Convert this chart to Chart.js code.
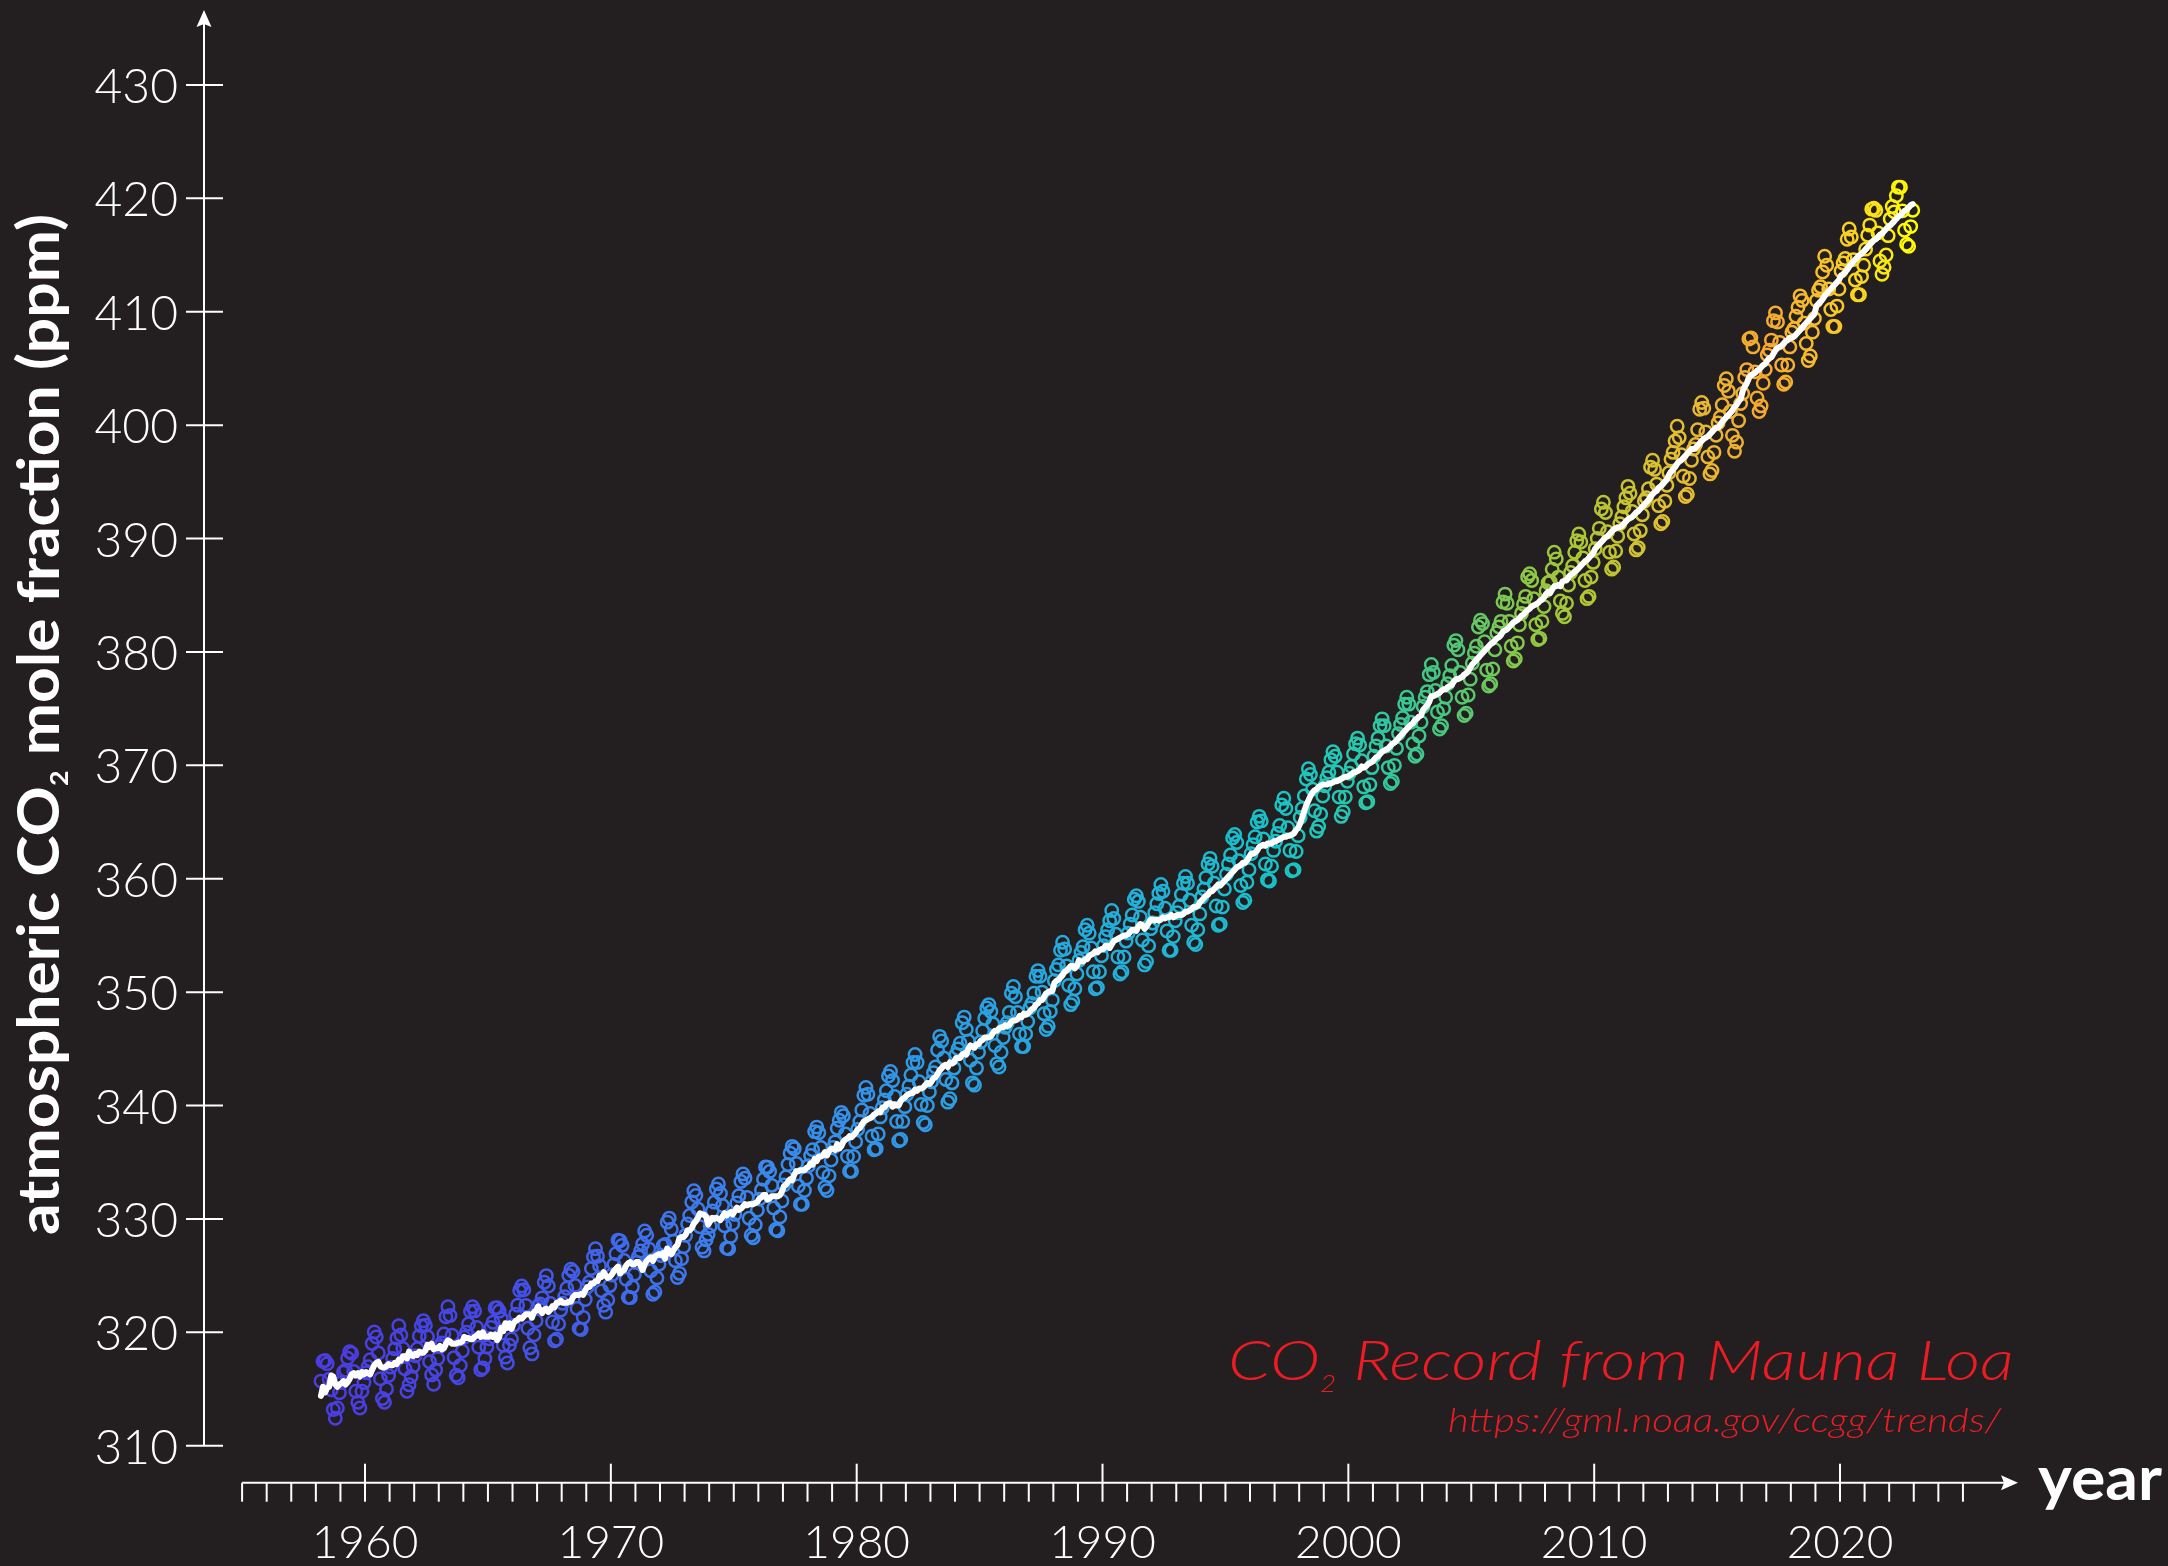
<!DOCTYPE html>
<html>
<head>
<meta charset="utf-8">
<title>CO2 Record from Mauna Loa</title>
<script src="https://cdn.jsdelivr.net/npm/chart.js@4.4.1/dist/chart.umd.min.js"></script>
<style>
  html, body { margin: 0; padding: 0; background: #231f20; }
  #wrap { position: relative; width: 2168px; height: 1566px; }
</style>
</head>
<body>
<div id="wrap"><canvas id="co2"></canvas></div>
<script>
// Mauna Loa monthly mean CO2 (ppm), one row per year, first value = March 1958
var START_YEAR = 1958, START_MONTH = 3;

var co2Monthly = [
  315.70, 317.45, 317.51, 317.24, 315.86, 314.93, 313.20, 312.43, 313.33, 314.67,
  315.58, 316.49, 316.65, 317.72, 318.29, 318.15, 316.54, 314.80, 313.84, 313.33, 314.81, 315.58,
  316.43, 316.97, 317.58, 319.02, 320.03, 319.59, 318.18, 315.91, 314.16, 313.83, 315.00, 316.19,
  316.93, 317.70, 318.54, 319.48, 320.58, 319.77, 318.57, 316.79, 314.80, 315.38, 316.10, 317.01,
  317.94, 318.55, 319.68, 320.57, 321.02, 320.62, 319.61, 317.40, 316.25, 315.42, 316.69, 317.70,
  318.74, 319.07, 319.86, 321.38, 322.25, 321.48, 319.74, 317.77, 316.21, 315.99, 317.07, 318.35,
  319.57, 320.01, 320.74, 321.84, 322.26, 321.89, 320.44, 318.69, 316.70, 316.87, 317.68, 318.71,
  319.44, 320.44, 320.89, 322.14, 322.17, 321.87, 321.21, 318.87, 317.81, 317.30, 318.87, 319.42,
  320.62, 321.60, 322.39, 323.70, 324.08, 323.75, 322.38, 320.36, 318.64, 318.10, 319.78, 321.03,
  322.33, 322.50, 323.04, 324.42, 325.00, 324.09, 322.54, 320.92, 319.25, 319.39, 320.73, 321.96,
  322.57, 323.15, 323.89, 325.02, 325.57, 325.36, 324.14, 322.11, 320.33, 320.25, 321.32, 322.89,
  324.00, 324.42, 325.63, 326.66, 327.38, 326.71, 325.88, 323.66, 322.38, 321.78, 322.85, 324.12,
  325.06, 325.98, 326.93, 328.13, 328.08, 327.67, 326.34, 324.69, 323.10, 323.06, 324.01, 325.13,
  326.17, 326.68, 327.17, 327.79, 328.93, 328.57, 327.36, 325.43, 323.36, 323.56, 324.80, 326.01,
  326.77, 327.63, 327.75, 329.72, 330.07, 329.09, 328.04, 326.32, 324.84, 325.20, 326.50, 327.55,
  328.55, 329.56, 330.30, 331.50, 332.48, 332.07, 330.87, 329.31, 327.51, 327.18, 328.16, 328.64,
  329.35, 330.71, 331.48, 332.65, 333.09, 332.25, 331.18, 329.40, 327.43, 327.37, 328.46, 329.57,
  330.40, 331.40, 332.04, 333.31, 333.97, 333.60, 331.90, 330.06, 328.56, 328.34, 329.49, 330.76,
  331.75, 332.56, 333.50, 334.58, 334.57, 334.19, 332.96, 330.97, 329.07, 328.96, 330.18, 331.58,
  333.0, 333.7, 334.8, 335.8, 336.4, 336.2, 334.9, 332.9, 331.3, 331.3, 332.5, 333.6,
  334.7, 335.6, 336.1, 337.7, 338.1, 337.6, 336.3, 334.1, 332.8, 332.5, 333.8, 335.2,
  336.3, 336.8, 338.0, 338.7, 339.4, 339.1, 337.5, 335.5, 334.2, 334.2, 335.5, 336.8,
  337.9, 338.6, 339.6, 340.9, 341.6, 341.0, 339.3, 337.3, 336.1, 336.2, 337.5, 339.0,
  339.8, 340.5, 341.3, 342.6, 343.0, 342.2, 340.8, 338.6, 336.9, 337.0, 338.6, 339.9,
  341.0, 341.7, 342.7, 343.8, 344.5, 343.8, 342.1, 340.1, 338.5, 338.3, 340.0, 341.2,
  342.1, 342.9, 343.4, 344.9, 346.1, 345.7, 344.2, 342.3, 340.3, 340.6, 342.0, 343.3,
  344.5, 345.0, 345.5, 347.3, 347.8, 346.7, 345.7, 344.0, 342.0, 341.8, 343.3, 344.7,
  345.6, 346.6, 347.7, 348.6, 348.9, 348.3, 347.2, 345.3, 343.7, 343.4, 344.7, 346.0,
  346.9, 347.3, 348.2, 349.9, 350.5, 349.6, 348.2, 346.3, 345.2, 345.2, 346.3, 347.4,
  348.6, 349.0, 349.9, 351.4, 351.9, 351.4, 350.0, 348.1, 346.7, 347.0, 348.3, 349.3,
  351.0, 352.0, 352.4, 353.7, 354.4, 353.8, 352.3, 350.6, 348.9, 349.2, 350.3, 351.6,
  352.8, 353.5, 354.0, 355.5, 355.9, 355.2, 353.9, 351.8, 350.3, 350.4, 351.8, 353.2,
  354.1, 354.9, 355.5, 356.3, 357.2, 356.5, 355.1, 353.1, 351.6, 351.8, 353.1, 354.5,
  355.2, 356.0, 356.8, 358.2, 358.5, 358.0, 356.6, 354.6, 352.4, 352.7, 354.1, 355.6,
  356.1, 357.0, 357.8, 358.7, 359.5, 358.9, 357.4, 355.4, 353.7, 353.7, 354.9, 356.3,
  357.0, 357.6, 358.6, 359.6, 360.2, 359.6, 358.1, 355.9, 354.4, 354.2, 355.5, 356.9,
  358.4, 359.1, 360.1, 361.3, 361.8, 361.1, 359.6, 357.6, 355.9, 356.0, 357.5, 359.1,
  360.4, 361.3, 362.1, 363.6, 363.9, 363.2, 361.6, 359.4, 357.9, 358.1, 359.7, 360.8,
  362.2, 363.0, 363.7, 365.0, 365.5, 365.1, 363.5, 361.3, 359.9, 359.8, 361.1, 362.5,
  363.3, 364.0, 364.7, 366.5, 367.1, 366.2, 364.5, 362.5, 360.7, 360.8, 362.4, 363.8,
  365.4, 366.2, 367.3, 368.8, 369.7, 369.2, 367.9, 366.0, 364.2, 364.6, 365.7, 367.3,
  368.2, 368.9, 369.4, 370.5, 371.2, 370.8, 369.4, 367.2, 365.5, 365.9, 367.2, 368.6,
  369.3, 369.9, 371.0, 371.9, 372.4, 371.8, 370.4, 368.1, 366.7, 366.8, 368.3, 369.8,
  370.8, 371.7, 372.4, 373.5, 374.1, 373.5, 371.7, 369.8, 368.4, 368.6, 370.0, 371.5,
  372.8, 373.6, 374.2, 375.4, 376.0, 375.4, 373.8, 371.9, 370.8, 371.0, 372.6, 373.8,
  375.2, 376.0, 376.5, 378.0, 378.9, 378.2, 376.6, 374.7, 373.2, 373.5, 375.0, 376.0,
  377.2, 377.9, 378.8, 380.6, 381.0, 380.2, 378.2, 376.0, 374.4, 374.6, 376.2, 377.6,
  379.0, 379.9, 380.5, 382.2, 382.8, 382.5, 380.9, 378.4, 377.0, 377.2, 378.5, 380.2,
  381.7, 382.2, 382.7, 384.4, 385.1, 384.3, 382.7, 380.5, 379.2, 379.4, 380.8, 382.4,
  383.4, 384.2, 384.9, 386.6, 386.9, 386.3, 384.7, 382.4, 381.1, 381.2, 382.7, 384.0,
  385.4, 386.1, 386.2, 387.3, 388.8, 388.2, 386.6, 384.5, 383.4, 383.1, 384.3, 385.9,
  387.0, 387.6, 388.8, 389.8, 390.4, 389.7, 388.3, 386.3, 384.7, 384.9, 386.6, 387.9,
  389.1, 390.0, 390.9, 392.6, 393.2, 392.3, 390.6, 388.8, 387.3, 387.5, 388.9, 390.2,
  391.3, 391.9, 392.8, 393.6, 394.6, 394.0, 392.4, 390.4, 389.0, 389.2, 390.7, 392.1,
  393.3, 393.6, 394.4, 396.3, 396.9, 396.1, 394.8, 392.9, 391.3, 391.5, 393.3, 394.7,
  395.8, 397.0, 397.6, 398.6, 399.9, 398.9, 397.4, 395.5, 393.7, 393.9, 395.3, 396.9,
  397.9, 398.3, 399.6, 401.4, 402.0, 401.5, 399.4, 397.2, 395.7, 396.0, 397.6, 399.1,
  400.2, 400.7, 401.8, 403.5, 404.1, 403.0, 401.2, 399.1, 397.7, 398.5, 400.4, 401.9,
  402.8, 404.2, 404.9, 407.6, 407.7, 406.9, 404.7, 402.4, 401.2, 401.7, 403.7, 404.9,
  406.2, 406.6, 407.5, 409.2, 409.9, 409.1, 407.3, 405.3, 403.6, 403.8, 405.3, 406.9,
  408.2, 408.5, 409.6, 410.4, 411.4, 411.0, 409.0, 407.2, 405.7, 406.1, 408.2, 409.4,
  411.0, 411.9, 412.2, 413.5, 414.9, 414.1, 412.0, 410.2, 408.7, 408.7, 410.5, 412.0,
  413.6, 414.3, 414.7, 416.4, 417.3, 416.6, 414.6, 412.8, 411.5, 411.5, 413.1, 414.1,
  415.52, 416.75, 417.64, 419.05, 419.13, 418.94, 416.96, 414.47, 413.30, 413.93, 415.01, 416.71,
  418.19, 419.28, 418.81, 420.23, 420.99, 420.99, 418.90, 417.19, 415.95, 415.78, 417.51, 418.95
];

// seasonally adjusted trend (white line), same months as above
var co2Trend = [
  314.4, 315.2, 314.7, 315.1, 315.2, 316.2, 316.1, 315.4, 315.2, 315.4,
  315.5, 315.7, 315.4, 315.6, 315.9, 316.3, 316.4, 316.2, 316.4, 316.1, 316.5, 316.3,
  316.5, 316.4, 316.3, 316.7, 317.1, 317.3, 317.4, 317.0, 316.9, 316.9, 317.0, 317.2,
  317.1, 317.1, 317.3, 317.2, 317.6, 317.5, 317.9, 317.9, 317.7, 318.3, 318.0, 317.9,
  318.1, 318.0, 318.3, 318.2, 318.2, 318.4, 318.9, 318.7, 319.0, 318.5, 318.6, 318.6,
  318.8, 318.5, 318.6, 319.0, 319.3, 319.2, 319.0, 319.0, 319.0, 319.1, 319.1, 319.2,
  319.6, 319.5, 319.5, 319.4, 319.4, 319.6, 319.7, 319.9, 319.6, 320.0, 319.6, 319.6,
  319.6, 319.8, 319.6, 319.8, 319.3, 319.6, 320.4, 320.1, 320.8, 320.4, 320.8, 320.3,
  320.8, 321.0, 321.1, 321.3, 321.2, 321.4, 321.6, 321.6, 321.6, 321.3, 321.8, 321.9,
  322.3, 321.9, 321.7, 322.0, 322.1, 321.8, 322.0, 322.3, 322.2, 322.6, 322.6, 322.8,
  322.6, 322.6, 322.6, 322.7, 322.7, 323.1, 323.3, 323.3, 323.3, 323.4, 323.3, 323.7,
  324.0, 324.0, 324.3, 324.3, 324.5, 324.5, 325.0, 324.9, 325.3, 325.0, 324.8, 324.9,
  325.1, 325.4, 325.6, 325.8, 325.2, 325.4, 325.5, 325.9, 326.1, 326.2, 326.0, 326.0,
  326.2, 326.2, 325.9, 325.5, 326.0, 326.3, 326.5, 326.6, 326.3, 326.7, 326.8, 326.9,
  326.8, 327.0, 326.5, 327.4, 327.2, 326.9, 327.2, 327.5, 327.7, 328.3, 328.4, 328.4,
  328.6, 329.0, 329.0, 329.2, 329.6, 329.8, 330.1, 330.5, 330.4, 330.4, 330.2, 329.5,
  329.8, 330.1, 330.0, 330.1, 330.0, 329.9, 330.2, 330.5, 330.3, 330.5, 330.6, 330.4,
  330.7, 331.0, 330.8, 330.9, 331.1, 331.3, 331.2, 331.3, 331.3, 331.3, 331.4, 331.5,
  331.8, 331.9, 332.1, 332.1, 331.7, 331.8, 332.0, 332.0, 332.0, 332.0, 332.1, 332.4,
  332.9, 333.0, 333.3, 333.5, 333.4, 333.9, 334.2, 334.2, 334.3, 334.3, 334.3, 334.5,
  334.6, 334.9, 334.8, 335.3, 335.1, 335.5, 335.5, 335.6, 335.9, 335.6, 336.0, 336.2,
  336.2, 336.1, 336.6, 336.2, 336.4, 336.8, 337.0, 337.1, 337.3, 337.2, 337.4, 337.6,
  337.9, 338.0, 338.3, 338.6, 338.7, 338.8, 338.9, 339.0, 339.2, 339.3, 339.5, 339.4,
  339.8, 339.8, 340.1, 340.2, 340.2, 339.9, 340.1, 340.0, 340.0, 340.4, 340.6, 340.7,
  340.9, 341.0, 341.1, 341.1, 341.4, 341.3, 341.5, 341.5, 341.6, 341.8, 342.0, 341.9,
  342.1, 342.4, 342.5, 342.8, 343.1, 343.3, 343.5, 343.6, 343.4, 343.8, 343.7, 343.8,
  344.2, 344.2, 344.2, 344.5, 344.6, 344.5, 345.0, 345.3, 345.2, 345.1, 345.4, 345.4,
  345.7, 345.8, 346.0, 346.0, 346.0, 346.1, 346.4, 346.6, 346.6, 346.8, 346.9, 346.9,
  347.1, 347.0, 347.1, 347.4, 347.5, 347.5, 347.6, 347.9, 347.8, 348.1, 348.0, 348.1,
  348.3, 348.5, 348.6, 348.9, 349.0, 349.3, 349.3, 349.6, 349.9, 350.0, 350.1, 350.1,
  350.8, 351.0, 351.1, 351.3, 351.5, 351.8, 351.9, 352.1, 352.3, 352.3, 352.1, 352.3,
  352.8, 352.7, 352.7, 352.9, 352.9, 353.2, 353.3, 353.4, 353.6, 353.5, 353.7, 353.8,
  353.8, 354.1, 354.1, 353.9, 354.2, 354.5, 354.6, 354.7, 354.8, 354.9, 355.0, 355.0,
  355.1, 355.3, 355.5, 355.5, 355.4, 355.8, 356.0, 355.9, 355.6, 355.8, 356.1, 356.4,
  356.4, 356.3, 356.4, 356.3, 356.4, 356.6, 356.5, 356.6, 356.6, 356.8, 356.6, 356.7,
  356.8, 356.8, 356.8, 356.9, 357.1, 357.1, 357.2, 357.3, 357.5, 357.5, 357.6, 357.9,
  358.1, 358.3, 358.5, 358.6, 358.9, 358.9, 359.1, 359.3, 359.5, 359.4, 359.6, 359.8,
  360.0, 360.2, 360.4, 360.6, 360.8, 361.0, 361.1, 361.2, 361.4, 361.4, 361.6, 361.9,
  362.2, 362.2, 362.3, 362.5, 362.8, 362.9, 363.0, 362.9, 363.1, 363.1, 363.1, 363.3,
  363.3, 363.4, 363.5, 363.6, 363.7, 363.7, 363.8, 363.8, 363.9, 364.0, 364.3, 364.5,
  364.9, 365.4, 366.0, 366.5, 366.9, 367.3, 367.6, 367.8, 367.9, 368.1, 368.2, 368.3,
  368.3, 368.3, 368.4, 368.4, 368.5, 368.6, 368.6, 368.7, 368.8, 368.9, 369.0, 369.0,
  369.1, 369.2, 369.4, 369.4, 369.5, 369.6, 369.9, 369.8, 369.9, 370.1, 370.2, 370.3,
  370.5, 370.7, 370.8, 371.0, 371.2, 371.3, 371.4, 371.5, 371.7, 371.9, 372.0, 372.2,
  372.4, 372.6, 372.8, 373.0, 373.2, 373.4, 373.6, 373.7, 374.0, 374.1, 374.3, 374.4,
  374.9, 375.1, 375.3, 375.6, 376.1, 376.1, 376.2, 376.3, 376.4, 376.6, 376.7, 376.7,
  376.9, 377.0, 377.1, 377.4, 377.6, 377.6, 377.7, 377.8, 378.0, 378.1, 378.3, 378.6,
  378.9, 379.1, 379.3, 379.5, 379.7, 379.9, 380.1, 380.3, 380.5, 380.7, 380.8, 381.0,
  381.2, 381.3, 381.5, 381.8, 381.9, 382.0, 382.2, 382.4, 382.6, 382.7, 382.8, 383.0,
  383.2, 383.3, 383.5, 383.7, 383.8, 384.0, 384.1, 384.2, 384.3, 384.5, 384.6, 384.8,
  385.1, 385.3, 385.2, 385.5, 385.8, 385.8, 385.9, 385.8, 386.2, 386.3, 386.3, 386.6,
  386.8, 386.9, 387.1, 387.2, 387.4, 387.6, 387.8, 388.0, 388.1, 388.3, 388.5, 388.7,
  389.1, 389.3, 389.5, 389.7, 389.9, 390.1, 390.2, 390.4, 390.6, 390.8, 390.9, 391.0,
  391.0, 391.1, 391.3, 391.5, 391.7, 391.8, 391.9, 392.1, 392.3, 392.4, 392.6, 392.8,
  393.0, 393.2, 393.4, 393.7, 393.9, 394.1, 394.2, 394.5, 394.6, 394.8, 395.0, 395.2,
  395.6, 395.9, 396.1, 396.3, 396.6, 396.8, 396.9, 397.1, 397.3, 397.5, 397.7, 397.9,
  397.9, 398.0, 398.2, 398.4, 398.6, 398.8, 398.9, 399.0, 399.2, 399.4, 399.6, 399.8,
  399.8, 400.0, 400.3, 400.5, 400.7, 400.9, 401.1, 401.3, 401.6, 401.8, 402.1, 402.3,
  403.0, 403.4, 403.7, 404.2, 404.4, 404.5, 404.6, 404.8, 404.9, 405.1, 405.3, 405.4,
  405.7, 405.9, 406.0, 406.3, 406.6, 406.8, 406.9, 407.0, 407.2, 407.4, 407.5, 407.7,
  407.7, 407.8, 408.0, 408.2, 408.4, 408.6, 408.8, 409.0, 409.2, 409.4, 409.6, 409.8,
  410.5, 410.7, 410.9, 411.1, 411.4, 411.6, 411.8, 412.0, 412.2, 412.4, 412.6, 412.8,
  413.2, 413.3, 413.5, 413.7, 414.0, 414.2, 414.4, 414.6, 414.8, 415.0, 415.1, 415.3,
  415.5, 415.7, 415.9, 416.1, 416.3, 416.4, 416.6, 416.8, 416.9, 417.1, 417.3, 417.5,
  417.6, 417.8, 418.0, 418.2, 418.4, 418.5, 418.7, 418.9, 419.0, 419.2, 419.4, 419.5
];

var yTicks = [310, 320, 330, 340, 350, 360, 370, 380, 390, 400, 410, 420, 430];
var xMajorTicks = [1960, 1970, 1980, 1990, 2000, 2010, 2020];
var xMinorFirst = 1955, xMinorLast = 2025;

var titleMain = ['CO', '2', ' Record from Mauna Loa'];
var titleUrl = 'https://gml.noaa.gov/ccgg/trends/';
var yTitle = ['atmospheric CO', '2', ' mole fraction (ppm)'];
var xTitle = 'year';

// colour ramp along time (purple-blue -> cyan -> green -> gold -> yellow)
var colorStops = [
  [1958, '#4b3ce0'], [1965, '#4548e6'], [1970, '#3f68ec'], [1976, '#3a88f0'],
  [1985, '#2ba0e2'], [1992, '#22b2d8'], [1997, '#18c2c8'], [2001, '#2cc8a8'],
  [2004, '#48c87c'], [2007, '#88c848'], [2010, '#b4c630'], [2013, '#e2c030'],
  [2017, '#f5a830'], [2020, '#f8c828'], [2023, '#ffff00']
];

var BG = '#231f20', INK = '#ffffff', RED = '#ed1c24';
var FONT = "Lato, 'Open Sans', 'DejaVu Sans', sans-serif";

function rgb(hex) {
  return [parseInt(hex.substr(1, 2), 16), parseInt(hex.substr(3, 2), 16), parseInt(hex.substr(5, 2), 16)];
}
function colorAt(x) {
  if (x <= colorStops[0][0]) return colorStops[0][1];
  for (var i = 1; i < colorStops.length; i++) {
    if (x <= colorStops[i][0]) {
      var a = colorStops[i - 1], b = colorStops[i];
      var t = (x - a[0]) / (b[0] - a[0]);
      var ca = rgb(a[1]), cb = rgb(b[1]);
      return 'rgb(' + ca.map(function (v, k) { return Math.round(v + (cb[k] - v) * t); }).join(',') + ')';
    }
  }
  return colorStops[colorStops.length - 1][1];
}

function monthX(i) {
  var m = START_MONTH - 1 + i;
  return START_YEAR + (m + 0.5) / 12;
}

var monthlyPts = co2Monthly.map(function (v, i) { return { x: monthX(i), y: v }; });
var trendPts = co2Trend.map(function (v, i) { return { x: monthX(i), y: v }; });
var pointColors = monthlyPts.map(function (p) { return colorAt(p.x); });

// text runs, optionally squeezed/stretched to a target width
function drawRuns(ctx, runs, x, y, width, align) {
  var total = 0;
  runs.forEach(function (r) { ctx.font = r.font; r.w = ctx.measureText(r.t).width; total += r.w; });
  var s = width ? width / total : 1;
  ctx.save();
  ctx.translate(x, y);
  ctx.scale(s, 1);
  ctx.textAlign = 'left';
  ctx.textBaseline = 'alphabetic';
  var cx = align === 'center' ? -total / 2 : (align === 'right' ? -total : 0);
  runs.forEach(function (r) { ctx.font = r.font; ctx.fillText(r.t, cx, r.dy || 0); cx += r.w; });
  ctx.restore();
}

var frame = {
  id: 'frame',
  beforeDraw: function (chart) {
    var ctx = chart.ctx;
    ctx.save();
    ctx.fillStyle = BG;
    ctx.fillRect(0, 0, chart.width, chart.height);
    ctx.restore();
  },
  afterDraw: function (chart) {
    var ctx = chart.ctx, xs = chart.scales.x, ys = chart.scales.y, area = chart.chartArea;
    var yAxisX = 204, axisY = area.bottom;
    ctx.save();
    ctx.strokeStyle = INK;
    ctx.fillStyle = INK;
    ctx.lineWidth = 2;

    // y axis + arrow
    var yTop = area.top;
    ctx.beginPath();
    ctx.moveTo(yAxisX, ys.getPixelForValue(yTicks[0]));
    ctx.lineTo(yAxisX, yTop + 12);
    ctx.stroke();
    ctx.beginPath();
    ctx.moveTo(yAxisX, yTop);
    ctx.lineTo(yAxisX - 7.5, yTop + 17);
    ctx.lineTo(yAxisX, yTop + 14);
    ctx.lineTo(yAxisX + 7.5, yTop + 17);
    ctx.closePath();
    ctx.fill();

    ctx.font = '300 48px ' + FONT;
    ctx.textAlign = 'right';
    ctx.textBaseline = 'alphabetic';
    yTicks.forEach(function (v) {
      var py = ys.getPixelForValue(v);
      ctx.beginPath();
      ctx.moveTo(yAxisX - 18, py);
      ctx.lineTo(yAxisX + 19, py);
      ctx.stroke();
      ctx.fillText(String(v), 178, py + 18);
    });

    // x axis + arrow
    var xRight = area.right;
    ctx.beginPath();
    ctx.moveTo(xs.getPixelForValue(xMinorFirst), axisY);
    ctx.lineTo(xRight - 12, axisY);
    ctx.stroke();
    ctx.beginPath();
    ctx.moveTo(xRight, axisY);
    ctx.lineTo(xRight - 17, axisY - 7.5);
    ctx.lineTo(xRight - 14, axisY);
    ctx.lineTo(xRight - 17, axisY + 7.5);
    ctx.closePath();
    ctx.fill();

    for (var yr = xMinorFirst; yr <= xMinorLast; yr++) {
      var px = xs.getPixelForValue(yr);
      var major = xMajorTicks.indexOf(yr) >= 0;
      ctx.beginPath();
      ctx.moveTo(px, major ? axisY - 19 : axisY);
      ctx.lineTo(px, axisY + 19);
      ctx.stroke();
    }
    ctx.font = '300 46px ' + FONT;
    ctx.textAlign = 'center';
    xMajorTicks.forEach(function (yr) {
      ctx.fillText(String(yr), xs.getPixelForValue(yr), 1558);
    });

    // axis titles
    drawRuns(ctx, [{ t: xTitle, font: 'bold 62px ' + FONT }], 2038, 1500, 124, 'left');

    ctx.save();
    ctx.translate(59, 724.5);
    ctx.rotate(-Math.PI / 2);
    drawRuns(ctx, [
      { t: yTitle[0], font: 'bold 58px ' + FONT },
      { t: yTitle[1], font: 'bold 25px ' + FONT, dy: 9 },
      { t: yTitle[2], font: 'bold 58px ' + FONT }
    ], 0, 0, 1021, 'center');
    ctx.restore();

    // red source annotation
    ctx.fillStyle = RED;
    drawRuns(ctx, [
      { t: titleMain[0], font: 'italic 300 56px ' + FONT },
      { t: titleMain[1], font: 'italic 300 23px ' + FONT, dy: 12 },
      { t: titleMain[2], font: 'italic 300 56px ' + FONT }
    ], 1228, 1380, 786, 'left');
    drawRuns(ctx, [{ t: titleUrl, font: 'italic 300 33px ' + FONT }], 1448, 1432, 553, 'left');

    ctx.restore();
  }
};

new Chart(document.getElementById('co2'), {
  type: 'scatter',
  data: {
    datasets: [
      {
        label: 'trend',
        data: trendPts,
        showLine: true,
        borderColor: INK,
        borderWidth: 6,
        borderJoinStyle: 'round',
        borderCapStyle: 'round',
        pointRadius: 0,
        tension: 0,
        order: 0
      },
      {
        label: 'monthly mean',
        data: monthlyPts,
        pointStyle: 'circle',
        pointRadius: 6.2,
        pointBorderWidth: 2.5,
        pointBackgroundColor: 'rgba(0,0,0,0)',
        pointBorderColor: pointColors,
        order: 1
      }
    ]
  },
  options: {
    responsive: true,
    maintainAspectRatio: false,
    animation: false,
    devicePixelRatio: 1,
    events: [],
    layout: { padding: { left: 242.1, right: 150, top: 10, bottom: 83.3 } },
    plugins: { legend: { display: false }, tooltip: { enabled: false } },
    scales: {
      x: { type: 'linear', min: 1955, max: 2027.24, display: false },
      y: { type: 'linear', min: 306.74, max: 436.61, display: false }
    }
  },
  plugins: [frame]
});
</script>
</body>
</html>
